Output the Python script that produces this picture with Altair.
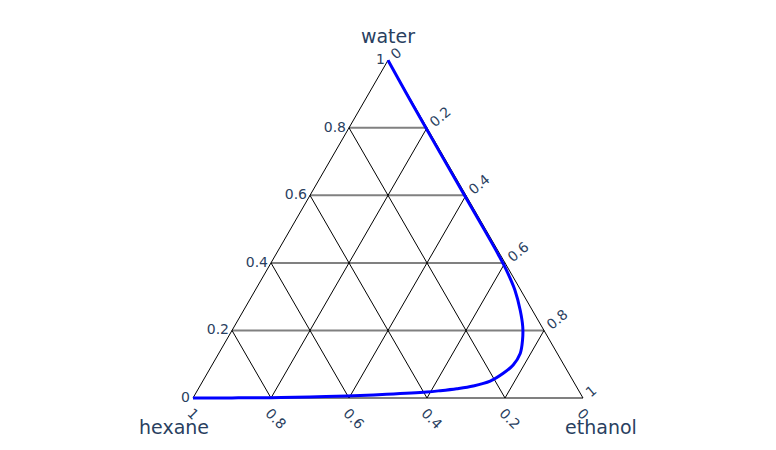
import altair as alt
import pandas as pd
import numpy as np

# ---------------- data ----------------
# curve points (ternary fractions)
curve_water = [1.0, 0.9, 0.8, 0.6, 0.5, 0.418, 0.369, 0.32, 0.26, 0.211, 0.172, 0.132,
               0.098, 0.073, 0.050, 0.0355, 0.0275, 0.0216, 0.0178, 0.011, 0.0059,
               0.003, 0.001, 0.0003, 0.0]
curve_hexane = [0.0, 0.002, 0.003, 0.004, 0.004, 0.005, 0.008, 0.0147, 0.031, 0.049, 0.069,
                0.095, 0.130, 0.168, 0.213, 0.264, 0.310, 0.356, 0.392, 0.498, 0.603,
                0.70, 0.80, 0.90, 1.0]

tick_values = [0.0, 0.2, 0.4, 0.6, 0.8, 1.0]
water_tick_labels = ["0", "0.2", "0.4", "0.6", "0.8", "1"]
hexane_tick_labels = ["0", "0.2", "0.4", "0.6", "0.8", "1"]
ethanol_tick_labels = ["0", "0.2", "0.4", "0.6", "0.8", "1"]
axis_titles = ["water", "hexane", "ethanol"]

# ---------------- geometry helpers ----------------
SQ = np.sqrt(3) / 2
PX = 390.0  # pixels per unit side


def to_xy(a, c):
    return c + a / 2.0, a * SQ


W, H = 760, 434
xs = alt.Scale(domain=[-185 / PX, (W - 185) / PX], nice=False, zero=False)
ys = alt.Scale(domain=[-(H - 390) / PX, 390 / PX], nice=False, zero=False)

# curve
rows = []
for i, (a, h) in enumerate(zip(curve_water, curve_hexane)):
    c = 1 - a - h
    x, y = to_xy(a, c)
    rows.append(dict(i=i, water=a, hexane=h, ethanol=c, x=x, y=y))
curve_df = pd.DataFrame(rows)

# grid lines
gray_rows, black_rows = [], []
for t in tick_values[:-1]:
    # constant water
    x1, y1 = to_xy(t, 0)
    x2, y2 = to_xy(t, 1 - t)
    gray_rows.append(dict(x=x1, y=y1, x2=x2, y2=y2))
for t in tick_values[1:-1]:
    # constant hexane
    x1, y1 = to_xy(1 - t, 0)
    x2, y2 = to_xy(0, 1 - t)
    black_rows.append(dict(x=x1, y=y1, x2=x2, y2=y2))
    # constant ethanol
    x1, y1 = to_xy(0, t)
    x2, y2 = to_xy(1 - t, t)
    black_rows.append(dict(x=x1, y=y1, x2=x2, y2=y2))
# edges
for (a1, c1, a2, c2) in [(0, 0, 1, 0), (0, 1, 1, 0)]:
    x1, y1 = to_xy(a1, c1)
    x2, y2 = to_xy(a2, c2)
    black_rows.append(dict(x=x1, y=y1, x2=x2, y2=y2))
gray_df = pd.DataFrame(gray_rows)
black_df = pd.DataFrame(black_rows)

# tick labels
water_lab = []
for t, lab in zip(tick_values, water_tick_labels):
    x, y = to_xy(t, 0)
    water_lab.append(dict(x=x, y=y, label=lab))
hex_lab = []
for t, lab in zip(tick_values, hexane_tick_labels):
    x, y = to_xy(0, 1 - t)
    hex_lab.append(dict(x=x - 3.7 / PX, y=y - 13.5 / PX, label=lab))
eth_lab = []
for t, lab in zip(tick_values, ethanol_tick_labels):
    x, y = to_xy(1 - t, t)
    eth_lab.append(dict(x=x + 5.3 / PX, y=y + 3.2 / PX, label=lab))

title_df = pd.DataFrame([
    dict(x=0.5, y=(398 - 43) / PX, label=axis_titles[0]),
    dict(x=(174 - 193) / PX, y=(398 - 434) / PX, label=axis_titles[1]),
    dict(x=(601 - 193) / PX, y=(398 - 434) / PX, label=axis_titles[2]),
])

FONT = "DejaVu Sans"
TXT = "#2a3f5f"

X = alt.X("x:Q", scale=xs, axis=None)
Y = alt.Y("y:Q", scale=ys, axis=None)

gray_layer = alt.Chart(gray_df).mark_rule(color="#808080", strokeWidth=2).encode(
    x=X, y=Y, x2="x2:Q", y2="y2:Q")
black_layer = alt.Chart(black_df).mark_rule(color="#000000", strokeWidth=1).encode(
    x=X, y=Y, x2="x2:Q", y2="y2:Q")

curve_layer = alt.Chart(curve_df).mark_line(
    color="#0000ff", strokeWidth=3, interpolate="catmull-rom").encode(
    x=X, y=Y, order="i:Q")

water_text = alt.Chart(pd.DataFrame(water_lab)).mark_text(
    align="right", baseline="middle", dx=-3, font=FONT, fontSize=14, color=TXT).encode(
    x=X, y=Y, text="label:N")
hex_text = alt.Chart(pd.DataFrame(hex_lab)).mark_text(
    align="left", baseline="middle", angle=45, font=FONT, fontSize=14, color=TXT).encode(
    x=X, y=Y, text="label:N")
eth_text = alt.Chart(pd.DataFrame(eth_lab)).mark_text(
    align="left", baseline="middle", angle=320, font=FONT, fontSize=14, color=TXT).encode(
    x=X, y=Y, text="label:N")
title_text = alt.Chart(title_df).mark_text(
    align="center", baseline="alphabetic", font=FONT, fontSize=19, color=TXT).encode(
    x=X, y=Y, text="label:N")

chart = alt.layer(
    gray_layer, black_layer, curve_layer, water_text, hex_text, eth_text, title_text
).properties(
    width=W, height=H, padding=0,
    autosize=alt.AutoSizeParams(type="fit", contains="padding"),
).configure_view(stroke=None)

chart.save("out.html", embed_options={"renderer": "svg", "actions": False})
